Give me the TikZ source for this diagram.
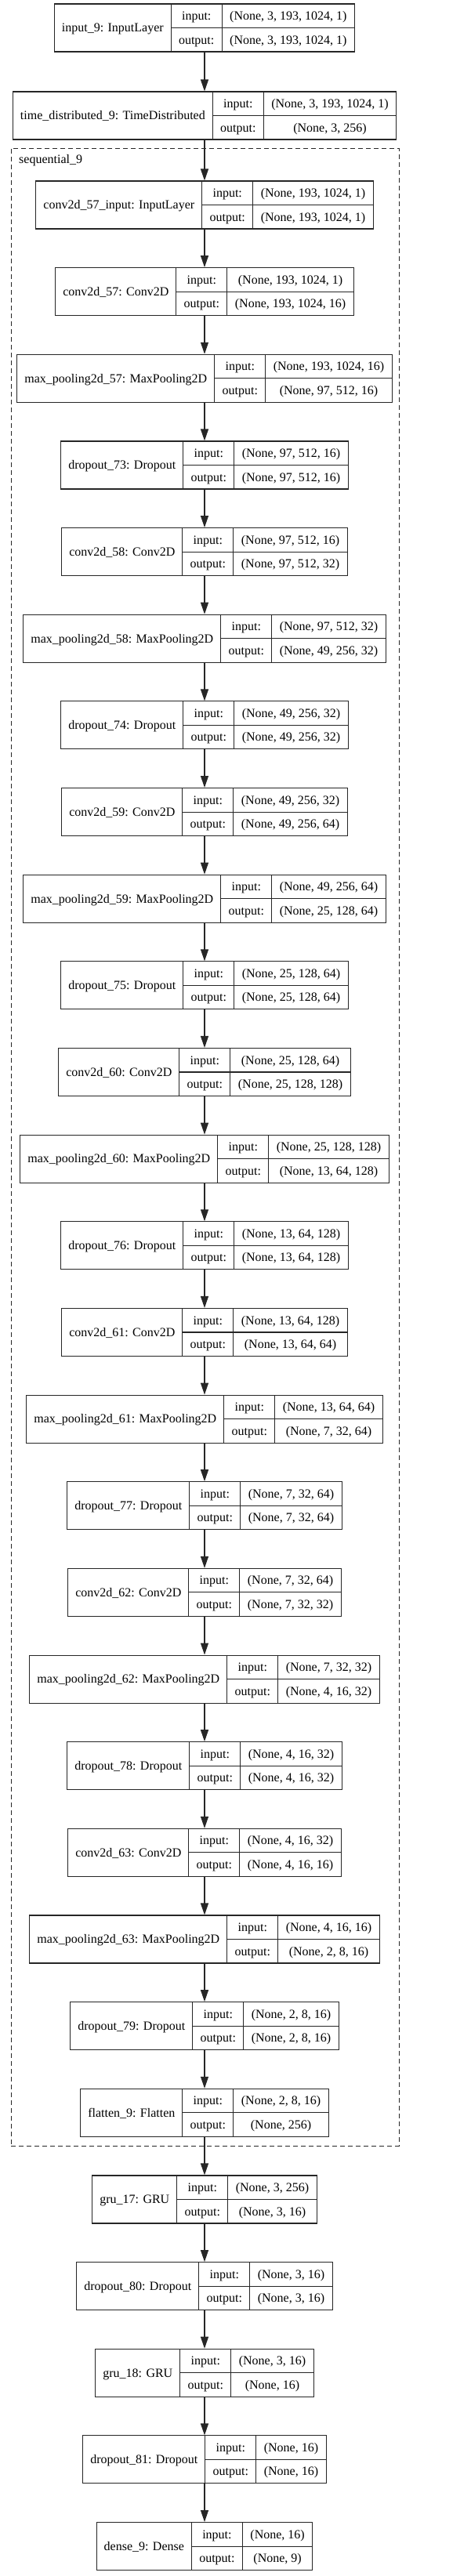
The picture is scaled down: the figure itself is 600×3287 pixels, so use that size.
\documentclass[tikz,border=0pt]{standalone}
\usepackage{fontspec}
\setmainfont{Liberation Serif}
\usetikzlibrary{arrows.meta}
\newcommand\kfont{\fontsize{16}{19}\selectfont}
\tikzset{
  boxshape/.style={draw=black!85, line width=1.1pt, inner sep=0pt, minimum height=61pt},
  boxline/.style={draw=black!85, line width=1.1pt},
  txt/.style={anchor=base, inner sep=0pt, font=\kfont},
  arr/.style={draw=black!85, line width=1.2pt, -{Triangle[length=15pt, width=10pt]}},
  cluster/.style={draw=black!85, line width=1pt, dash pattern=on 6pt off 4pt, inner sep=0pt}
}
% pass 1: measure text widths outside the picture
\newcommand\measurebox[5]{%
  \setbox0\hbox{\kfont #2}%
  \expandafter\xdef\csname wl-#1\endcsname{\the\wd0}%
  \setbox0\hbox{\kfont #3}\dimen0=\wd0
  \setbox0\hbox{\kfont #4}\ifdim\wd0>\dimen0 \dimen0=\wd0 \fi
  \expandafter\xdef\csname ws-#1\endcsname{\the\dimen0}%
}
% pass 2: draw
\newcommand\drawbox[5]{%
  \pgfmathsetmacro\lbw{\csname wl-#1\endcsname+19}%
  \pgfmathsetmacro\shw{\csname ws-#1\endcsname+20}%
  \pgfmathsetmacro\totw{\lbw+65+\shw}%
  \pgfmathsetmacro\xxa{261-\totw/2}%
  \pgfmathsetmacro\xxb{\xxa+\lbw}%
  \pgfmathsetmacro\xxc{\xxb+65}%
  \pgfmathsetmacro\xxd{\xxa+\totw}%
  \pgfmathsetmacro\yya{#5}%
  \pgfmathsetmacro\yym{\yya+30.5}%
  \pgfmathsetmacro\yyb{\yya+61}%
  \node[boxshape, minimum width=\totw pt] (#1) at (261,\yym) {};
  \draw[boxline] (\xxb,\yya) -- (\xxb,\yyb) (\xxc,\yya) -- (\xxc,\yyb) (\xxb,\yym) -- (\xxd,\yym);
  \node[txt] (#1-l) at ({(\xxa+\xxb)/2},{\yym+5.3}) {#2};
  \node[txt] (#1-i) at ({\xxb+32.5},{\yya+15.25+5.3}) {input:};
  \node[txt] (#1-o) at ({\xxb+32.5},{\yym+15.25+5.3}) {output:};
  \node[txt] (#1-is) at ({(\xxc+\xxd)/2},{\yya+15.25+5.3}) {#3};
  \node[txt] (#1-os) at ({(\xxc+\xxd)/2},{\yym+15.25+5.3}) {#4};
}
\newcommand\layerlist{%
\layerbox{in1}{input\_9: InputLayer}{(None, 3, 193, 1024, 1)}{(None, 3, 193, 1024, 1)}{5}
\layerbox{td}{time\_distributed\_9: TimeDistributed}{(None, 3, 193, 1024, 1)}{(None, 3, 256)}{117}
\layerbox{c57in}{conv2d\_57\_input: InputLayer}{(None, 193, 1024, 1)}{(None, 193, 1024, 1)}{231}
\layerbox{c57}{conv2d\_57: Conv2D}{(None, 193, 1024, 1)}{(None, 193, 1024, 16)}{231+110.65*1}
\layerbox{mp57}{max\_pooling2d\_57: MaxPooling2D}{(None, 193, 1024, 16)}{(None, 97, 512, 16)}{231+110.65*2}
\layerbox{do73}{dropout\_73: Dropout}{(None, 97, 512, 16)}{(None, 97, 512, 16)}{231+110.65*3}
\layerbox{c58}{conv2d\_58: Conv2D}{(None, 97, 512, 16)}{(None, 97, 512, 32)}{231+110.65*4}
\layerbox{mp58}{max\_pooling2d\_58: MaxPooling2D}{(None, 97, 512, 32)}{(None, 49, 256, 32)}{231+110.65*5}
\layerbox{do74}{dropout\_74: Dropout}{(None, 49, 256, 32)}{(None, 49, 256, 32)}{231+110.65*6}
\layerbox{c59}{conv2d\_59: Conv2D}{(None, 49, 256, 32)}{(None, 49, 256, 64)}{231+110.65*7}
\layerbox{mp59}{max\_pooling2d\_59: MaxPooling2D}{(None, 49, 256, 64)}{(None, 25, 128, 64)}{231+110.65*8}
\layerbox{do75}{dropout\_75: Dropout}{(None, 25, 128, 64)}{(None, 25, 128, 64)}{231+110.65*9}
\layerbox{c60}{conv2d\_60: Conv2D}{(None, 25, 128, 64)}{(None, 25, 128, 128)}{231+110.65*10}
\layerbox{mp60}{max\_pooling2d\_60: MaxPooling2D}{(None, 25, 128, 128)}{(None, 13, 64, 128)}{231+110.65*11}
\layerbox{do76}{dropout\_76: Dropout}{(None, 13, 64, 128)}{(None, 13, 64, 128)}{231+110.65*12}
\layerbox{c61}{conv2d\_61: Conv2D}{(None, 13, 64, 128)}{(None, 13, 64, 64)}{231+110.65*13}
\layerbox{mp61}{max\_pooling2d\_61: MaxPooling2D}{(None, 13, 64, 64)}{(None, 7, 32, 64)}{231+110.65*14}
\layerbox{do77}{dropout\_77: Dropout}{(None, 7, 32, 64)}{(None, 7, 32, 64)}{231+110.65*15}
\layerbox{c62}{conv2d\_62: Conv2D}{(None, 7, 32, 64)}{(None, 7, 32, 32)}{231+110.65*16}
\layerbox{mp62}{max\_pooling2d\_62: MaxPooling2D}{(None, 7, 32, 32)}{(None, 4, 16, 32)}{231+110.65*17}
\layerbox{do78}{dropout\_78: Dropout}{(None, 4, 16, 32)}{(None, 4, 16, 32)}{231+110.65*18}
\layerbox{c63}{conv2d\_63: Conv2D}{(None, 4, 16, 32)}{(None, 4, 16, 16)}{231+110.65*19}
\layerbox{mp63}{max\_pooling2d\_63: MaxPooling2D}{(None, 4, 16, 16)}{(None, 2, 8, 16)}{231+110.65*20}
\layerbox{do79}{dropout\_79: Dropout}{(None, 2, 8, 16)}{(None, 2, 8, 16)}{231+110.65*21}
\layerbox{fl9}{flatten\_9: Flatten}{(None, 2, 8, 16)}{(None, 256)}{231+110.65*22}
\layerbox{gru17}{gru\_17: GRU}{(None, 3, 256)}{(None, 3, 16)}{231+110.65*23}
\layerbox{do80}{dropout\_80: Dropout}{(None, 3, 16)}{(None, 3, 16)}{231+110.65*24}
\layerbox{gru18}{gru\_18: GRU}{(None, 3, 16)}{(None, 16)}{231+110.65*25}
\layerbox{do81}{dropout\_81: Dropout}{(None, 16)}{(None, 16)}{231+110.65*26}
\layerbox{dense9}{dense\_9: Dense}{(None, 16)}{(None, 9)}{231+110.65*27}
}
\begin{document}
\let\layerbox\measurebox
\layerlist
\begin{tikzpicture}[x=1pt, y=-1pt]
\let\layerbox\drawbox
\useasboundingbox (0,0) rectangle (600,3287);
\node[cluster, minimum width=495pt, minimum height=2549pt] (seq) at (261.5,1463.5) {};
\node[txt, anchor=base west] (seqlabel) at (24,208.5) {sequential\_9};
\layerlist
\foreach \a/\b in {in1/td, td/c57in, c57in/c57, c57/mp57, mp57/do73, do73/c58, c58/mp58, mp58/do74, do74/c59, c59/mp59, mp59/do75, do75/c60, c60/mp60, mp60/do76, do76/c61, c61/mp61, mp61/do77, do77/c62, c62/mp62, mp62/do78, do78/c63, c63/mp63, mp63/do79, do79/fl9, fl9/gru17, gru17/do80, do80/gru18, gru18/do81, do81/dense9}
  \draw[arr] (\a.south) -- (\b.north);
\end{tikzpicture}
\end{document}
